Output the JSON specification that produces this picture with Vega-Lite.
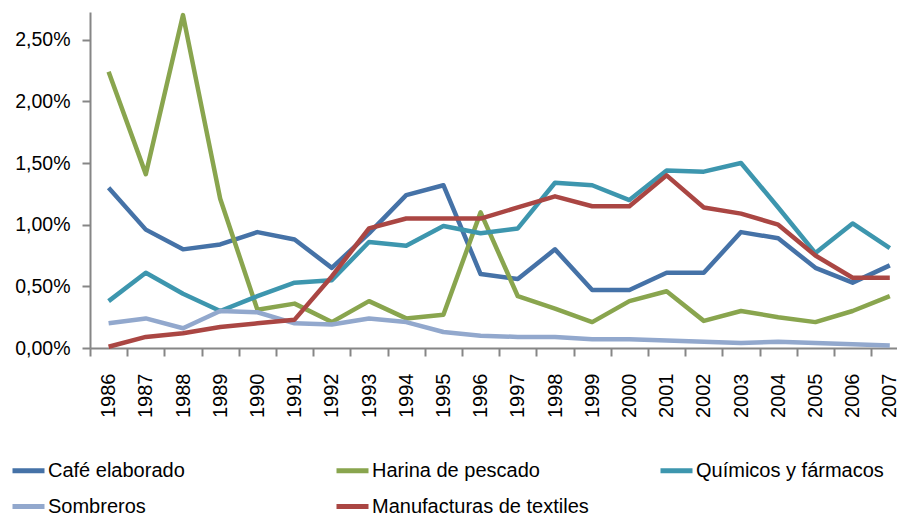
{
  "$schema": "https://vega.github.io/schema/vega-lite/v6.json",
  "width": 807,
  "height": 336,
  "autosize": {"type": "none"},
  "padding": {"left": 90, "top": 12, "right": 0, "bottom": 172},
  "background": "white",
  "config": {
    "view": {"stroke": null},
    "font": "Liberation Sans",
    "axis": {
      "domainColor": "#868686",
      "tickColor": "#868686",
      "domainWidth": 2,
      "tickWidth": 2,
      "tickSize": 8,
      "grid": false,
      "labelColor": "#000000",
      "labelFont": "Liberation Sans",
      "title": null
    }
  },
  "data": {
    "values": [
      {"year": "1986", "serie": "Café elaborado", "value": 1.30},
      {"year": "1987", "serie": "Café elaborado", "value": 0.96},
      {"year": "1988", "serie": "Café elaborado", "value": 0.80},
      {"year": "1989", "serie": "Café elaborado", "value": 0.84},
      {"year": "1990", "serie": "Café elaborado", "value": 0.94},
      {"year": "1991", "serie": "Café elaborado", "value": 0.88},
      {"year": "1992", "serie": "Café elaborado", "value": 0.65},
      {"year": "1993", "serie": "Café elaborado", "value": 0.93},
      {"year": "1994", "serie": "Café elaborado", "value": 1.24},
      {"year": "1995", "serie": "Café elaborado", "value": 1.32},
      {"year": "1996", "serie": "Café elaborado", "value": 0.60},
      {"year": "1997", "serie": "Café elaborado", "value": 0.56},
      {"year": "1998", "serie": "Café elaborado", "value": 0.80},
      {"year": "1999", "serie": "Café elaborado", "value": 0.47},
      {"year": "2000", "serie": "Café elaborado", "value": 0.47},
      {"year": "2001", "serie": "Café elaborado", "value": 0.61},
      {"year": "2002", "serie": "Café elaborado", "value": 0.61},
      {"year": "2003", "serie": "Café elaborado", "value": 0.94},
      {"year": "2004", "serie": "Café elaborado", "value": 0.89},
      {"year": "2005", "serie": "Café elaborado", "value": 0.65},
      {"year": "2006", "serie": "Café elaborado", "value": 0.53},
      {"year": "2007", "serie": "Café elaborado", "value": 0.67},
      {"year": "1986", "serie": "Harina de pescado", "value": 2.24},
      {"year": "1987", "serie": "Harina de pescado", "value": 1.41},
      {"year": "1988", "serie": "Harina de pescado", "value": 2.70},
      {"year": "1989", "serie": "Harina de pescado", "value": 1.21},
      {"year": "1990", "serie": "Harina de pescado", "value": 0.31},
      {"year": "1991", "serie": "Harina de pescado", "value": 0.36},
      {"year": "1992", "serie": "Harina de pescado", "value": 0.21},
      {"year": "1993", "serie": "Harina de pescado", "value": 0.38},
      {"year": "1994", "serie": "Harina de pescado", "value": 0.24},
      {"year": "1995", "serie": "Harina de pescado", "value": 0.27},
      {"year": "1996", "serie": "Harina de pescado", "value": 1.10},
      {"year": "1997", "serie": "Harina de pescado", "value": 0.42},
      {"year": "1998", "serie": "Harina de pescado", "value": 0.32},
      {"year": "1999", "serie": "Harina de pescado", "value": 0.21},
      {"year": "2000", "serie": "Harina de pescado", "value": 0.38},
      {"year": "2001", "serie": "Harina de pescado", "value": 0.46},
      {"year": "2002", "serie": "Harina de pescado", "value": 0.22},
      {"year": "2003", "serie": "Harina de pescado", "value": 0.30},
      {"year": "2004", "serie": "Harina de pescado", "value": 0.25},
      {"year": "2005", "serie": "Harina de pescado", "value": 0.21},
      {"year": "2006", "serie": "Harina de pescado", "value": 0.30},
      {"year": "2007", "serie": "Harina de pescado", "value": 0.42},
      {"year": "1986", "serie": "Químicos y fármacos", "value": 0.38},
      {"year": "1987", "serie": "Químicos y fármacos", "value": 0.61},
      {"year": "1988", "serie": "Químicos y fármacos", "value": 0.44},
      {"year": "1989", "serie": "Químicos y fármacos", "value": 0.30},
      {"year": "1990", "serie": "Químicos y fármacos", "value": 0.42},
      {"year": "1991", "serie": "Químicos y fármacos", "value": 0.53},
      {"year": "1992", "serie": "Químicos y fármacos", "value": 0.55},
      {"year": "1993", "serie": "Químicos y fármacos", "value": 0.86},
      {"year": "1994", "serie": "Químicos y fármacos", "value": 0.83},
      {"year": "1995", "serie": "Químicos y fármacos", "value": 0.99},
      {"year": "1996", "serie": "Químicos y fármacos", "value": 0.93},
      {"year": "1997", "serie": "Químicos y fármacos", "value": 0.97},
      {"year": "1998", "serie": "Químicos y fármacos", "value": 1.34},
      {"year": "1999", "serie": "Químicos y fármacos", "value": 1.32},
      {"year": "2000", "serie": "Químicos y fármacos", "value": 1.20},
      {"year": "2001", "serie": "Químicos y fármacos", "value": 1.44},
      {"year": "2002", "serie": "Químicos y fármacos", "value": 1.43},
      {"year": "2003", "serie": "Químicos y fármacos", "value": 1.50},
      {"year": "2004", "serie": "Químicos y fármacos", "value": 1.14},
      {"year": "2005", "serie": "Químicos y fármacos", "value": 0.77},
      {"year": "2006", "serie": "Químicos y fármacos", "value": 1.01},
      {"year": "2007", "serie": "Químicos y fármacos", "value": 0.81},
      {"year": "1986", "serie": "Sombreros", "value": 0.20},
      {"year": "1987", "serie": "Sombreros", "value": 0.24},
      {"year": "1988", "serie": "Sombreros", "value": 0.16},
      {"year": "1989", "serie": "Sombreros", "value": 0.30},
      {"year": "1990", "serie": "Sombreros", "value": 0.29},
      {"year": "1991", "serie": "Sombreros", "value": 0.20},
      {"year": "1992", "serie": "Sombreros", "value": 0.19},
      {"year": "1993", "serie": "Sombreros", "value": 0.24},
      {"year": "1994", "serie": "Sombreros", "value": 0.21},
      {"year": "1995", "serie": "Sombreros", "value": 0.13},
      {"year": "1996", "serie": "Sombreros", "value": 0.10},
      {"year": "1997", "serie": "Sombreros", "value": 0.09},
      {"year": "1998", "serie": "Sombreros", "value": 0.09},
      {"year": "1999", "serie": "Sombreros", "value": 0.07},
      {"year": "2000", "serie": "Sombreros", "value": 0.07},
      {"year": "2001", "serie": "Sombreros", "value": 0.06},
      {"year": "2002", "serie": "Sombreros", "value": 0.05},
      {"year": "2003", "serie": "Sombreros", "value": 0.04},
      {"year": "2004", "serie": "Sombreros", "value": 0.05},
      {"year": "2005", "serie": "Sombreros", "value": 0.04},
      {"year": "2006", "serie": "Sombreros", "value": 0.03},
      {"year": "2007", "serie": "Sombreros", "value": 0.02},
      {"year": "1986", "serie": "Manufacturas de textiles", "value": 0.01},
      {"year": "1987", "serie": "Manufacturas de textiles", "value": 0.09},
      {"year": "1988", "serie": "Manufacturas de textiles", "value": 0.12},
      {"year": "1989", "serie": "Manufacturas de textiles", "value": 0.17},
      {"year": "1990", "serie": "Manufacturas de textiles", "value": 0.20},
      {"year": "1991", "serie": "Manufacturas de textiles", "value": 0.23},
      {"year": "1992", "serie": "Manufacturas de textiles", "value": 0.58},
      {"year": "1993", "serie": "Manufacturas de textiles", "value": 0.97},
      {"year": "1994", "serie": "Manufacturas de textiles", "value": 1.05},
      {"year": "1995", "serie": "Manufacturas de textiles", "value": 1.05},
      {"year": "1996", "serie": "Manufacturas de textiles", "value": 1.05},
      {"year": "1997", "serie": "Manufacturas de textiles", "value": 1.14},
      {"year": "1998", "serie": "Manufacturas de textiles", "value": 1.23},
      {"year": "1999", "serie": "Manufacturas de textiles", "value": 1.15},
      {"year": "2000", "serie": "Manufacturas de textiles", "value": 1.15},
      {"year": "2001", "serie": "Manufacturas de textiles", "value": 1.40},
      {"year": "2002", "serie": "Manufacturas de textiles", "value": 1.14},
      {"year": "2003", "serie": "Manufacturas de textiles", "value": 1.09},
      {"year": "2004", "serie": "Manufacturas de textiles", "value": 1.00},
      {"year": "2005", "serie": "Manufacturas de textiles", "value": 0.75},
      {"year": "2006", "serie": "Manufacturas de textiles", "value": 0.57},
      {"year": "2007", "serie": "Manufacturas de textiles", "value": 0.57}
    ]
  },
  "mark": {"type": "line", "strokeWidth": 4.5, "strokeJoin": "round"},
  "encoding": {
    "x": {
      "field": "year",
      "type": "ordinal",
      "scale": {"type": "band", "range": [0, 818.4], "paddingInner": 0, "paddingOuter": 0},
      "axis": {
        "tickBand": "extent",
        "labelAngle": -90,
        "labelFontSize": 20,
        "labelPadding": 17,
        "labelBaseline": "middle",
        "labelAlign": "right"
      }
    },
    "y": {
      "field": "value",
      "type": "quantitative",
      "scale": {"domain": [0, 2.725], "nice": false, "zero": true},
      "axis": {
        "values": [0, 0.5, 1, 1.5, 2, 2.5],
        "labelExpr": "replace(format(datum.value, '.2f'), '.', ',') + '%'",
        "labelFontSize": 19.5,
        "labelPadding": 12
      }
    },
    "color": {
      "field": "serie",
      "type": "nominal",
      "sort": ["Café elaborado", "Harina de pescado", "Químicos y fármacos", "Sombreros", "Manufacturas de textiles"],
      "scale": {
        "domain": ["Café elaborado", "Harina de pescado", "Químicos y fármacos", "Sombreros", "Manufacturas de textiles"],
        "range": ["#4572A7", "#89A54E", "#3D96AE", "#92A8CD", "#AA4643"]
      },
      "legend": {
        "title": null,
        "orient": "none",
        "legendX": -80,
        "legendY": 440,
        "direction": "horizontal",
        "columns": 3,
        "gridAlign": "all",
        "columnPadding": 61,
        "rowPadding": 7,
        "padding": 0,
        "symbolType": "stroke",
        "symbolSize": 1024,
        "symbolStrokeWidth": 5,
        "labelFontSize": 20,
        "labelColor": "#000000",
        "labelOffset": 1,
        "labelLimit": 400,
        "labelFont": "Liberation Sans"
      }
    },
    "order": {"field": "year"}
  }
}
